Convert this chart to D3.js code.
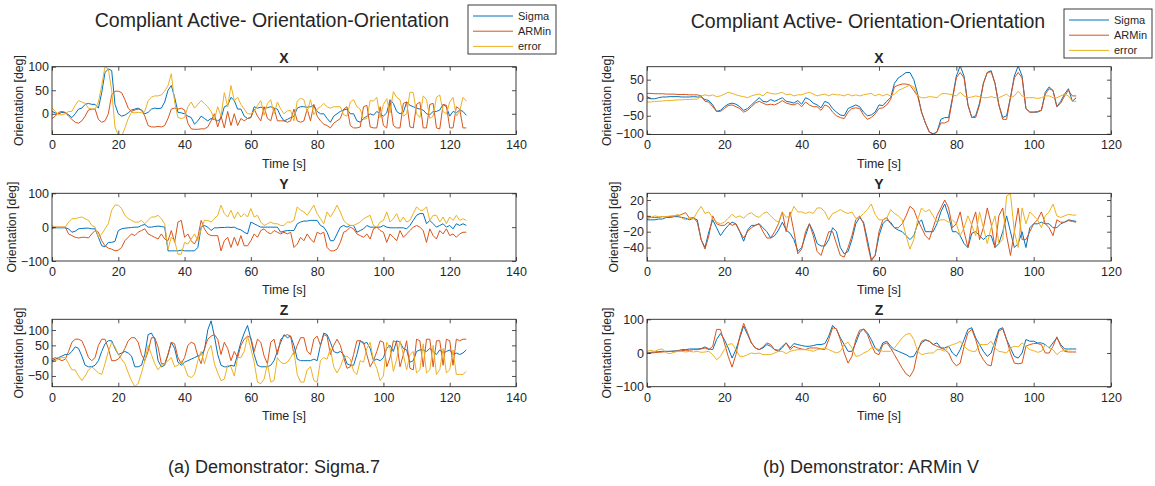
<!DOCTYPE html>
<html>
<head>
<meta charset="utf-8">
<script src="https://cdn.jsdelivr.net/npm/d3@7"></script>
<style>
  body { margin: 0; background: #fff; }
  text { font-family: "Liberation Sans", Arial, Helvetica, sans-serif; fill: #262626; }
</style>
</head>
<body>
<svg id="fig" width="1155" height="486"></svg>
<script>
// ---- series description -------------------------------------------------
const seriesNames = ["Sigma", "ARMin", "error"];
const seriesColors = ["#0072BD", "#D95319", "#EDB120"];
const sampleStep = 1; // seconds between samples

// ---- tick labels ----------------------------------------------------------
const timeTicksA = [0, 20, 40, 60, 80, 100, 120, 140];
const timeTicksB = [0, 20, 40, 60, 80, 100, 120];
const yTicksA_X = [0, 50, 100];
const yTicksA_Y = [-100, 0, 100];
const yTicksA_Z = [-50, 0, 50, 100];
const yTicksB_X = [-100, -50, 0, 50];
const yTicksB_Y = [-40, -20, 0, 20];
const yTicksB_Z = [-100, 0, 100];

// ---- (a) Sigma.7 demonstrator, 0..125 s -------------------------------
const sigmaA_X = [5,2,0,3,2,-2,-8,0,10,12,20,22,20,20,12,45,88,95,92,20,0,-5,-3,2,8,10,12,8,0,3,10,12,11,12,25,50,60,35,3,2,0,-5,-8,-22,-15,-5,-10,-15,-10,-12,-15,-10,15,18,35,28,10,10,-5,-10,-8,15,12,14,12,13,15,12,10,-5,-15,-12,-8,-5,12,15,15,14,15,18,5,0,0,-10,-18,-5,0,5,8,10,0,0,-15,-18,-10,-5,0,-3,5,0,-5,2,30,22,5,0,3,25,18,15,12,10,8,0,-2,5,5,8,20,15,-5,5,2,8,5,-3];
const arminA_X = [-10,-5,3,5,3,-5,-12,-18,-20,-15,-5,8,10,10,-12,-18,-15,0,40,48,48,45,30,12,5,8,10,8,-5,-25,-28,-28,-27,-28,-25,-10,10,12,10,12,8,-20,-32,-33,-33,-32,-32,-28,-15,0,-28,-5,-30,5,-25,0,-25,-10,-15,-10,-8,10,-5,-15,15,-10,-15,12,-15,-15,-15,-18,-15,10,-15,-18,-15,10,-15,20,-5,-15,-22,-25,-30,-20,-15,-10,10,15,-25,-30,-30,-28,15,18,-28,-30,-30,15,-25,-30,28,-25,-30,-30,22,25,-28,-30,20,25,-30,-30,20,22,-30,-32,20,18,-30,-30,15,10,-30,-30];
const errorA_X = [12,5,-2,-2,0,5,5,18,28,25,22,12,10,10,25,60,100,95,50,-28,-46,-48,-30,-10,3,2,3,2,5,28,35,38,38,40,48,60,85,25,-8,-10,-8,15,25,12,20,28,22,15,5,-12,15,-5,45,15,60,28,35,20,10,0,0,5,18,28,-3,22,30,0,25,10,0,6,7,-15,27,33,30,4,30,-2,10,15,22,15,12,15,15,15,-2,-5,25,30,15,10,-12,-10,28,27,35,-8,20,32,2,47,35,30,-5,0,46,45,0,-8,38,30,-10,-5,35,40,5,0,25,35,-5,5,35,27];

const sigmaA_Y = [0,-2,-2,-2,-2,-5,-15,-12,-5,-4,-3,-3,-5,-5,-30,-55,-58,-45,-45,-42,-10,-5,-3,-2,-1,0,0,5,8,0,0,2,3,2,0,-70,-70,-70,-70,-68,-70,-70,-70,-70,-60,0,5,0,-10,-2,-2,-1,-1,0,-1,0,-5,-8,-15,-20,15,10,5,0,0,0,0,0,0,-15,-12,-10,-10,-10,10,15,18,18,20,20,20,5,0,-15,-40,-40,-20,0,5,0,5,5,-15,-10,-5,5,0,0,0,0,5,0,-2,-2,-2,-2,-2,-5,5,20,35,40,40,10,20,10,0,5,10,0,5,-5,10,5,10,5];
const arminA_Y = [-5,0,0,0,0,-20,-25,-30,-32,-30,-30,-32,-20,-10,-15,-40,-55,-62,-65,-70,-68,-60,-40,-30,-20,-25,-15,-10,-5,-20,-25,-30,-35,-20,-35,-40,-10,-45,15,20,-30,-20,-40,-50,-30,20,-5,-20,-25,-25,-25,-70,-40,-30,-60,-30,-55,-25,-55,-55,-40,-20,-30,-10,-5,-15,-20,-10,-15,-20,-15,-20,-15,-60,-50,-30,-40,-20,-35,-45,-15,-20,-15,-60,-70,-70,-65,-45,-15,-10,0,-5,-20,-25,-30,-20,-35,-5,0,-10,-15,-45,-20,-30,-40,-10,-30,-20,-10,0,5,0,-10,-45,-5,-25,-35,-10,-20,-5,-25,-20,-30,-20,-15,-15];
const errorA_Y = [5,0,0,0,0,15,25,25,28,30,25,20,5,0,-30,-20,-5,10,50,65,65,55,35,25,20,15,15,20,10,20,30,30,35,25,10,-65,-30,-40,-80,-80,-45,-50,-35,-20,-40,-5,20,20,15,25,35,65,40,30,50,25,45,30,40,30,55,30,35,15,5,10,15,10,10,5,5,15,15,20,60,50,45,35,50,65,40,25,10,45,30,45,65,45,20,10,5,5,10,15,25,30,35,5,0,15,20,45,15,25,40,15,30,15,20,40,60,50,50,60,20,35,35,15,30,10,30,20,35,20,25,20];

const sigmaA_Z = [0,5,10,15,20,20,30,45,40,15,-15,-20,-20,-15,0,30,55,65,65,40,20,25,30,25,15,-20,-20,-15,20,85,90,70,0,-20,-15,20,60,40,-5,-15,-5,0,5,10,15,20,35,100,130,80,20,-15,-20,-20,-15,-18,20,60,90,115,70,20,-15,-20,-20,-20,-15,0,30,60,85,75,80,50,5,0,0,0,0,5,0,50,90,85,60,30,25,30,20,-10,-15,-15,20,65,55,60,40,0,5,0,10,40,50,30,65,60,40,35,-5,0,30,35,35,30,40,30,20,35,25,30,35,20,25,20,25,35];
const arminA_Z = [5,10,5,0,5,30,60,70,70,65,40,10,0,10,50,70,70,40,0,0,5,20,40,65,75,75,60,20,0,30,75,75,45,-10,-10,20,60,55,10,-10,10,50,60,55,15,-10,40,70,80,85,70,20,60,40,0,30,10,50,70,80,75,30,70,60,15,-10,60,70,20,70,80,85,80,20,50,75,75,30,20,70,80,50,85,80,20,50,70,50,10,-25,-20,20,65,65,60,20,-20,0,30,65,60,-20,10,65,60,-20,20,65,-25,-30,70,65,-20,70,70,-20,65,65,-15,70,65,-15,70,65,70,70];
const errorA_Z = [-5,0,5,10,10,-10,-30,-30,-50,-65,-50,-30,-20,-30,-40,-45,-10,30,60,45,20,5,-10,-40,-65,-85,-75,-40,0,50,20,-10,-30,-15,-10,0,10,-20,-15,0,-20,-50,-55,-45,0,30,-10,30,50,-10,-40,-65,-60,-15,-20,-50,10,10,30,80,40,-5,-70,-75,-60,-10,-70,-65,10,-5,-10,-5,10,30,-45,-70,-70,-30,-20,-65,-70,0,10,5,40,-20,-40,-20,10,15,5,-35,-45,0,-5,40,60,0,-25,-65,-50,60,40,-35,5,65,20,-30,20,30,-40,-30,55,-40,-30,50,-45,-30,40,-40,-30,35,-45,-45,-45,-35];

// ---- (b) ARMin V demonstrator, 0..111 s -------------------------------
const sigmaB_X = [3,-3,-3,0,2,2,3,3,3,2,2,2,3,2,2,-5,-8,-20,-38,-35,-25,-18,-15,-18,-25,-35,-30,-20,-10,0,-10,-12,-5,-10,-5,0,-10,-12,-15,-8,-18,0,-5,-15,-20,-28,-10,-15,-30,-40,-48,-50,-30,-25,-20,-25,-40,-50,-48,-40,-20,-22,-10,0,40,55,62,70,70,50,10,-40,-70,-95,-100,-95,-60,-55,-55,0,60,88,60,-20,-55,-50,-15,40,70,75,40,-20,-55,-50,0,60,88,60,-30,-40,-40,-40,-35,15,30,20,-25,-10,10,25,-10,0];
const arminB_X = [12,12,11,11,11,10,10,10,9,9,9,8,8,8,5,-10,-12,-25,-38,-38,-30,-22,-20,-25,-30,-40,-35,-25,-15,-10,-15,-20,-18,-20,-15,-8,-15,-18,-20,-15,-25,-12,-20,-25,-25,-35,-20,-25,-40,-50,-55,-58,-40,-30,-28,-30,-48,-60,-55,-45,-30,-28,-20,-5,30,35,38,38,35,20,5,-40,-70,-95,-102,-95,-70,-70,-65,-5,55,70,55,-20,-55,-55,-20,40,70,72,40,-20,-60,-60,0,55,70,55,-30,-40,-40,-38,-35,10,25,20,-25,-15,5,20,5,5];
const errorB_X = [-12,-12,-10,-10,-9,-8,-8,-7,-6,-6,-5,-5,-4,-4,5,8,5,8,3,5,10,15,12,8,5,3,0,5,8,10,5,15,12,10,12,15,8,10,5,8,8,12,15,10,5,8,10,5,10,8,8,5,10,5,8,5,8,10,12,5,10,5,10,5,10,20,25,30,35,30,5,0,0,3,2,0,10,12,10,8,5,15,5,0,2,5,3,0,0,3,0,0,5,10,0,5,18,5,0,0,0,-2,0,5,5,0,0,5,10,5,-10,-10];

const sigmaB_Y = [-5,-5,-5,-4,-4,-2,-2,-1,-1,-2,-3,-5,-3,-5,-30,-40,-20,-5,-15,-25,-18,-12,-8,-10,-20,-32,-18,-12,-12,-10,-15,-20,-28,-25,-18,-8,-18,-22,-30,-45,-40,-25,-10,-20,-35,-38,-38,-30,-15,-20,-40,-48,-45,-30,-10,-2,-8,-30,-55,-50,-25,-10,-5,-8,-15,-18,-20,-25,-30,-25,-10,-5,-20,-20,-20,-10,5,15,0,-20,-20,-25,-35,-40,-22,-20,-25,-30,-25,-25,-40,-35,-20,0,-20,-40,-35,-20,-40,-15,-10,-10,-8,-10,-10,-15,-15,-10,-8,-5,-6,-7];
const arminB_Y = [-3,-2,-2,-2,-1,-1,-1,0,0,2,4,-3,-2,-8,-30,-42,-25,0,-10,-12,-12,-8,-12,-10,-20,-28,-20,-15,-12,-10,-20,-28,-28,-20,-10,5,-20,5,-20,-48,-42,-20,-10,-25,-45,-50,-35,-20,-20,-35,-50,-52,-40,-25,-5,0,-10,-35,-57,-50,-20,-5,-2,-10,-15,-15,-10,0,12,8,-5,-15,-25,-30,-15,0,10,20,10,-15,-10,5,-20,-40,-10,5,-30,-15,10,-10,-40,0,10,-25,-50,-20,10,-30,-30,-20,-10,-5,5,-10,-15,-25,-5,-8,-8,-6,-7,-8];
const errorB_Y = [0,-2,0,-1,-1,-1,0,0,2,-3,-5,-3,-4,5,12,3,5,-3,-8,-10,-8,-3,2,-2,0,-3,2,4,0,-2,3,5,0,-5,-8,5,-2,0,12,5,5,3,5,3,10,10,5,-5,3,5,8,5,3,5,-3,-2,3,8,15,2,-5,-5,-3,8,3,0,-5,-25,-42,-30,-5,10,5,8,0,-8,-5,-5,-8,-5,-10,-25,-15,0,-12,-25,5,-15,-35,-15,0,-35,-30,25,28,-20,-40,10,-10,5,0,-5,-15,0,5,15,0,-2,0,2,1,1];

const sigmaB_Z = [0,2,3,4,5,5,5,6,7,10,10,12,12,12,13,18,12,10,40,58,40,15,-15,10,45,80,55,30,15,10,15,25,20,10,8,20,30,15,28,25,22,20,20,22,25,25,28,50,82,70,45,25,5,5,30,60,72,60,40,15,5,30,35,20,10,5,0,-5,-12,-10,10,30,38,35,25,30,15,15,20,0,-10,10,40,70,75,45,25,5,-10,0,35,70,75,40,15,-10,-15,0,40,35,35,30,30,25,15,30,45,25,12,12,12,12];
const arminB_Z = [0,0,1,2,3,4,5,5,6,7,8,8,10,10,12,15,10,20,70,70,30,-10,-42,-5,50,88,60,30,15,10,18,30,25,10,5,15,30,10,20,15,12,10,15,15,15,12,10,40,75,72,40,0,-30,-10,40,68,70,55,25,0,-5,25,30,15,-5,-25,-45,-62,-70,-50,5,35,40,35,25,20,15,10,0,-25,-38,-30,20,60,70,40,0,-20,-35,-38,20,65,72,40,0,-30,-32,-30,20,25,28,28,25,0,0,20,48,20,5,3,3,3];
const errorB_Z = [5,8,5,10,12,0,-2,2,5,5,3,5,3,5,2,3,5,-5,-20,-10,10,25,28,10,-10,-10,-5,0,-2,0,-5,-5,-5,0,5,5,-2,5,8,10,10,10,8,5,10,12,15,10,5,0,5,25,32,15,-10,-8,0,5,15,15,10,5,5,5,15,30,45,55,58,40,5,-5,-2,0,0,10,10,5,20,25,28,35,20,10,5,5,25,25,25,35,15,5,3,0,15,20,18,30,20,10,7,2,5,25,15,10,-5,5,7,9,10,10];

// ---- text ----------------------------------------------------------------
const figureTitle = "Compliant Active- Orientation-Orientation";
const captions = ["(a) Demonstrator: Sigma.7", "(b) Demonstrator: ARMin V"];
const axisNames = ["X", "Y", "Z"];
const yLabel = "Orientation [deg]";
const xLabel = "Time [s]";

// ---- panel set-up ----------------------------------------------------------
const figures = [
  {
    left: 52, right: 516, titleX: 272, titleY: 27, capX: 274,
    legend: { x: 468, y: 5 }, timeMax: 140, timeTicks: timeTicksA,
    rows: [
      { yDom: [-44, 100], yTicks: yTicksA_X, series: [sigmaA_X, arminA_X, errorA_X] },
      { yDom: [-100, 100], yTicks: yTicksA_Y, series: [sigmaA_Y, arminA_Y, errorA_Y] },
      { yDom: [-85, 135], yTicks: yTicksA_Z, series: [sigmaA_Z, arminA_Z, errorA_Z] }
    ]
  },
  {
    left: 647, right: 1111, titleX: 868, titleY: 28, capX: 871,
    legend: { x: 1064, y: 9 }, timeMax: 120, timeTicks: timeTicksB,
    rows: [
      { yDom: [-102, 86], yTicks: yTicksB_X, series: [sigmaB_X, arminB_X, errorB_X] },
      { yDom: [-57, 28.5], yTicks: yTicksB_Y, series: [sigmaB_Y, arminB_Y, errorB_Y] },
      { yDom: [-100, 100], yTicks: yTicksB_Z, series: [sigmaB_Z, arminB_Z, errorB_Z] }
    ]
  }
];
const rowBoxes = [
  { top: 66.7, bottom: 134.5 },
  { top: 193.3, bottom: 261 },
  { top: 319.3, bottom: 386.7 }
];

const svg = d3.select("#fig");
const axisColor = "#262626";
const tickLen = 4;
let clipId = 0;

figures.forEach((fig, fi) => {
  const x = d3.scaleLinear().domain([0, fig.timeMax]).range([fig.left, fig.right]);

  // figure title
  svg.append("text")
    .attr("x", fig.titleX).attr("y", fig.titleY)
    .attr("text-anchor", "middle")
    .style("font-size", "19.5px")
    .text(figureTitle);

  fig.rows.forEach((row, ri) => {
    const box = rowBoxes[ri];
    const y = d3.scaleLinear().domain(row.yDom).range([box.bottom, box.top]);
    const g = svg.append("g");

    // plot lines, clipped to the axes box
    const cid = "clip" + (clipId++);
    svg.append("clipPath").attr("id", cid)
      .append("rect")
      .attr("x", fig.left).attr("y", box.top)
      .attr("width", fig.right - fig.left).attr("height", box.bottom - box.top);

    const line = d3.line()
      .x((d, i) => x(i * sampleStep))
      .y(d => y(d));

    const lines = g.append("g").attr("clip-path", `url(#${cid})`);
    row.series.forEach((vals, si) => {
      lines.append("path")
        .datum(vals)
        .attr("fill", "none")
        .attr("stroke", seriesColors[si])
        .attr("stroke-width", 1)
        .attr("stroke-linejoin", "round")
        .attr("d", line);
    });

    // axes: ticks pointing inward on all four sides
    const bottomAxis = d3.axisBottom(x).tickValues(fig.timeTicks)
      .tickSizeInner(-tickLen).tickSizeOuter(0).tickPadding(6);
    const topAxis = d3.axisTop(x).tickValues(fig.timeTicks)
      .tickSizeInner(-tickLen).tickSizeOuter(0).tickFormat("");
    const leftAxis = d3.axisLeft(y).tickValues(row.yTicks)
      .tickSizeInner(-tickLen).tickSizeOuter(0).tickPadding(3);
    const rightAxis = d3.axisRight(y).tickValues(row.yTicks)
      .tickSizeInner(-tickLen).tickSizeOuter(0).tickFormat("");

    const gb = g.append("g").attr("transform", `translate(0,${box.bottom})`).call(bottomAxis);
    const gt = g.append("g").attr("transform", `translate(0,${box.top})`).call(topAxis);
    const gl = g.append("g").attr("transform", `translate(${fig.left},0)`).call(leftAxis);
    const gr = g.append("g").attr("transform", `translate(${fig.right},0)`).call(rightAxis);
    [gb, gt, gl, gr].forEach(a => {
      a.select(".domain").remove();
      a.selectAll(".tick line").attr("stroke", axisColor).attr("stroke-width", 0.8);
      a.selectAll(".tick text")
        .style("font-family", '"Liberation Sans", Arial, sans-serif')
        .style("font-size", "12.5px").attr("fill", "#333");
    });

    // axes box
    g.append("rect")
      .attr("x", fig.left).attr("y", box.top)
      .attr("width", fig.right - fig.left).attr("height", box.bottom - box.top)
      .attr("fill", "none").attr("stroke", axisColor).attr("stroke-width", 0.9);

    // subplot title
    g.append("text")
      .attr("x", (fig.left + fig.right) / 2).attr("y", box.top - 4)
      .attr("text-anchor", "middle")
      .style("font-size", "14px").style("font-weight", "bold")
      .attr("fill", "#000")
      .text(axisNames[ri]);

    // x label
    g.append("text")
      .attr("x", (fig.left + fig.right) / 2).attr("y", box.bottom + 33)
      .attr("text-anchor", "middle")
      .style("font-size", "12.5px")
      .text(xLabel);

    // y label, placed left of the widest tick label
    let maxW = 0;
    gl.selectAll(".tick text").each(function () {
      maxW = Math.max(maxW, this.getComputedTextLength());
    });
    const labelCx = fig.left - 3 - maxW - 9;
    g.append("text")
      .attr("transform", `translate(${labelCx + 4.3},${(box.top + box.bottom) / 2}) rotate(-90)`)
      .attr("text-anchor", "middle")
      .style("font-size", "12.3px")
      .text(yLabel);
  });

  // legend
  const lg = svg.append("g").attr("transform", `translate(${fig.legend.x},${fig.legend.y})`);
  lg.append("rect").attr("width", 88).attr("height", 49)
    .attr("fill", "#fff").attr("stroke", axisColor).attr("stroke-width", 0.9);
  seriesNames.forEach((name, si) => {
    const ry = 11 + si * 15.2;
    lg.append("line").attr("x1", 5).attr("x2", 45).attr("y1", ry).attr("y2", ry)
      .attr("stroke", seriesColors[si]).attr("stroke-width", 1);
    lg.append("text").attr("x", 50).attr("y", ry + 4)
      .style("font-size", "11px").text(name);
  });

  // caption
  svg.append("text")
    .attr("x", fig.capX).attr("y", 473)
    .attr("text-anchor", "middle")
    .style("font-size", "18px")
    .attr("fill", "#000")
    .text(captions[fi]);
});
</script>
</body>
</html>
